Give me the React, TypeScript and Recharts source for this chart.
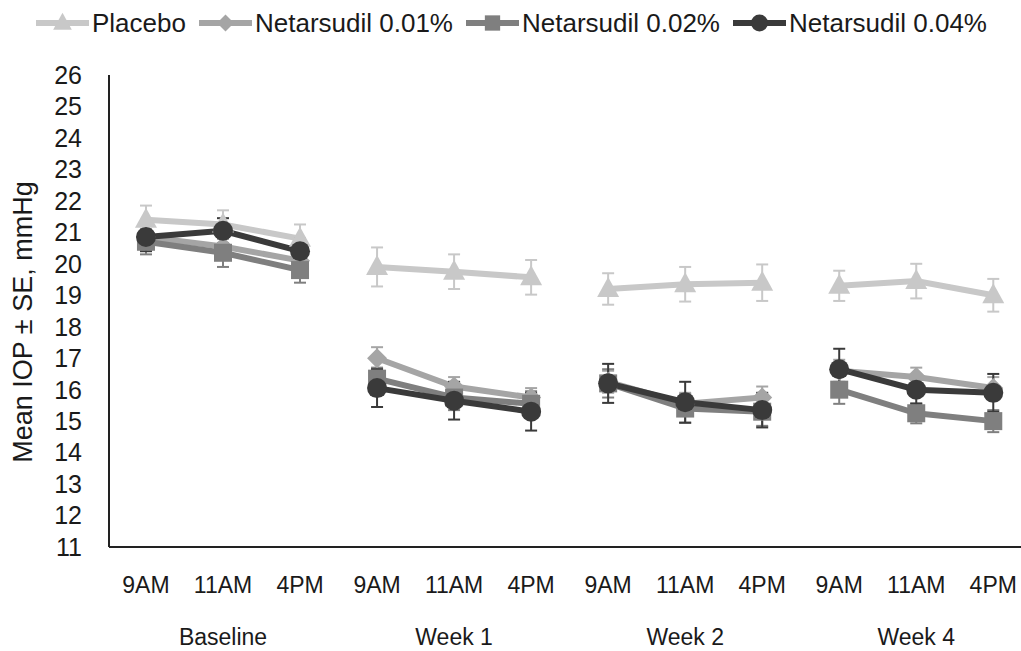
import React from 'react';
import { LineChart, Line, XAxis, YAxis, ErrorBar, Legend, Label } from 'recharts';

const timeLabels = ['9AM', '11AM', '4PM', '9AM', '11AM', '4PM', '9AM', '11AM', '4PM', '9AM', '11AM', '4PM'];
const groupLabels = ['Baseline', 'Week 1', 'Week 2', 'Week 4'];
const seriesNames = ['Placebo', 'Netarsudil 0.01%', 'Netarsudil 0.02%', 'Netarsudil 0.04%'];

const placebo = [21.4, 21.25, 20.8, 19.9, 19.75, 19.57, 19.2, 19.35, 19.4, 19.3, 19.45, 19.0];
const placeboSE = [0.45, 0.45, 0.45, 0.62, 0.55, 0.55, 0.5, 0.55, 0.58, 0.48, 0.55, 0.52];
const net001 = [20.85, 20.55, 20.1, 17.0, 16.1, 15.75, 16.25, 15.55, 15.75, 16.6, 16.4, 16.05];
const net001SE = [0.4, 0.4, 0.4, 0.35, 0.3, 0.3, 0.35, 0.35, 0.35, 0.35, 0.3, 0.35];
const net002 = [20.7, 20.35, 19.8, 16.35, 15.75, 15.55, 16.2, 15.4, 15.3, 16.0, 15.25, 15.0];
const net002SE = [0.4, 0.45, 0.4, 0.35, 0.4, 0.4, 0.45, 0.45, 0.45, 0.45, 0.32, 0.35];
const net004 = [20.85, 21.05, 20.4, 16.05, 15.65, 15.3, 16.2, 15.6, 15.35, 16.65, 16.0, 15.9];
const net004SE = [0.45, 0.4, 0.4, 0.6, 0.6, 0.6, 0.62, 0.65, 0.55, 0.65, 0.45, 0.6];

const yTicks = [11, 12, 13, 14, 15, 16, 17, 18, 19, 20, 21, 22, 23, 24, 25, 26];
const xTicks = [0, 1, 2, 3, 4, 5, 6, 7, 8, 9, 10, 11];

const seriesValues = [placebo, net001, net002, net004];
const seriesSE = [placeboSE, net001SE, net002SE, net004SE];
const seriesColors = ['#c8c8c8', '#a5a5a5', '#7f7f7f', '#3a3a3a'];
const seriesShapes = ['triangle', 'diamond', 'square', 'circle'];

const FONT = '"Liberation Sans", Arial, sans-serif';
const TEXT_COLOR = '#1a1a1a';

function Marker({ shape, cx, cy, color, s = 1 }: { shape: string; cx: number; cy: number; color: string; s?: number }) {
  if (shape === 'triangle') {
    const pts = `${cx},${cy - 12 * s} ${cx - 11 * s},${cy + 8 * s} ${cx + 11 * s},${cy + 8 * s}`;
    return <polygon points={pts} fill={color} />;
  }
  if (shape === 'diamond') {
    const d = 10 * s;
    const pts = `${cx},${cy - d} ${cx + d},${cy} ${cx},${cy + d} ${cx - d},${cy}`;
    return <polygon points={pts} fill={color} />;
  }
  if (shape === 'square') {
    const h = 9 * s;
    return <rect x={cx - h} y={cy - h} width={2 * h} height={2 * h} fill={color} />;
  }
  return <circle cx={cx} cy={cy} r={10 * s} fill={color} />;
}

const makeDot = (shape: string, color: string) => (props: any) => {
  const { cx, cy, index } = props;
  if (cx == null || cy == null || isNaN(cx) || isNaN(cy)) return <g key={index} />;
  return <Marker key={index} shape={shape} cx={cx} cy={cy} color={color} />;
};

const XTick = (props: any) => {
  const { x, y, payload } = props;
  const i = payload.value as number;
  return (
    <g>
      <text x={x} y={y} dy="0.71em" textAnchor="middle" fontFamily={FONT} fontSize={23} fill={TEXT_COLOR}>
        {timeLabels[i]}
      </text>
      {i % 3 === 1 && (
        <text x={x} y={y + 52} dy="0.71em" textAnchor="middle" fontFamily={FONT} fontSize={23} fill={TEXT_COLOR}>
          {groupLabels[(i - 1) / 3]}
        </text>
      )}
    </g>
  );
};

const renderYLabel = (props: any) => {
  const vb = props.viewBox || { x: 0, y: 0, width: 0, height: 0 };
  const cx = vb.x + 15;
  const cy = vb.y + vb.height / 2 + 11;
  return (
    <text
      x={cx}
      y={cy}
      transform={`rotate(-90, ${cx}, ${cy})`}
      textAnchor="middle"
      dominantBaseline="central"
      fontFamily={FONT}
      fontSize={27}
      fill={TEXT_COLOR}
    >
      Mean IOP ± SE, mmHg
    </text>
  );
};

const renderLegend = () => (
  <div
    style={{
      display: 'flex',
      alignItems: 'center',
      height: 30,
      paddingLeft: 28,
      fontFamily: FONT,
      fontSize: 26,
      color: TEXT_COLOR,
      whiteSpace: 'nowrap',
    }}
  >
    {seriesNames.map((name, i) => (
      <div key={name} style={{ display: 'flex', alignItems: 'center', marginRight: 13 }}>
        <svg width={53} height={26} style={{ display: 'block' }}>
          <line x1={0} y1={13} x2={53} y2={13} stroke={seriesColors[i]} strokeWidth={6} />
          <Marker shape={seriesShapes[i]} cx={26.5} cy={13} color={seriesColors[i]} s={0.85} />
        </svg>
        <span style={{ marginLeft: 3, lineHeight: '30px' }}>{name}</span>
      </div>
    ))}
  </div>
);

export default function App() {
  const lines: React.ReactNode[] = [];
  for (let s = 0; s < seriesValues.length; s++) {
    for (let g = 0; g < groupLabels.length; g++) {
      const seg = [0, 1, 2].map((k) => ({
        x: g * 3 + k,
        y: seriesValues[s][g * 3 + k],
        e: seriesSE[s][g * 3 + k],
      }));
      lines.push(
        <Line
          key={`${s}-${g}`}
          data={seg}
          dataKey="y"
          name={seriesNames[s]}
          type="linear"
          stroke={seriesColors[s]}
          strokeWidth={6}
          dot={makeDot(seriesShapes[s], seriesColors[s])}
          activeDot={false}
          legendType="none"
          isAnimationActive={false}
        >
          <ErrorBar dataKey="e" direction="y" width={6} strokeWidth={2} stroke={seriesColors[s]} isAnimationActive={false} />
        </Line>
      );
    }
  }

  return (
    <div style={{ position: 'fixed', top: 8, left: 8, width: 1013, height: 643, background: '#fff' }}>
      <LineChart width={1013} height={643} margin={{ top: 67, right: 0, left: 0, bottom: 0 }}>
        <XAxis
          dataKey="x"
          type="number"
          domain={[-0.48, 11.36]}
          ticks={xTicks}
          interval={0}
          allowDataOverflow
          height={104}
          tickSize={0}
          tickMargin={30}
          tickLine={false}
          axisLine={{ stroke: '#222', strokeWidth: 2 }}
          tick={<XTick />}
        />
        <YAxis
          type="number"
          domain={[11, 26]}
          ticks={yTicks}
          interval={0}
          allowDataOverflow
          width={101}
          tickSize={0}
          tickMargin={27}
          tickLine={false}
          axisLine={{ stroke: '#222', strokeWidth: 2 }}
          tick={{ fontFamily: FONT, fontSize: 25, fill: TEXT_COLOR }}
        >
          <Label content={renderYLabel} />
        </YAxis>
        <Legend
          layout="horizontal"
          verticalAlign="middle"
          align="center"
          content={renderLegend}
          wrapperStyle={{ top: 0, left: 0, width: 1013 }}
        />
        {lines}
      </LineChart>
    </div>
  );
}
